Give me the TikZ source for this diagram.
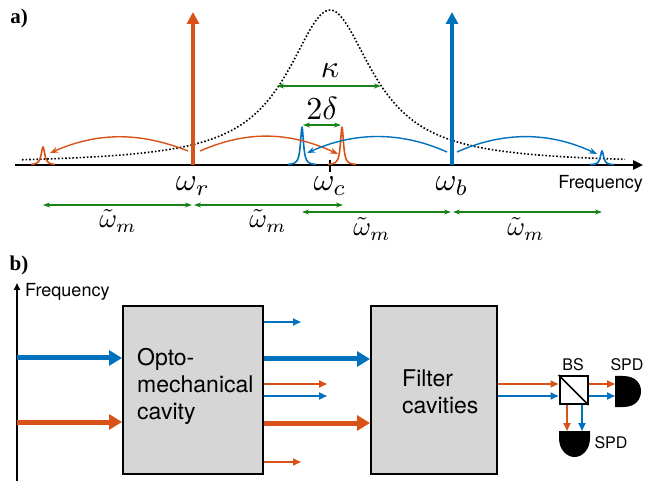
\documentclass[tikz,border=0pt]{standalone}
\usepackage{fontspec}
\newfontfamily\helv{TeX Gyre Heros}
\newfontfamily\tms{Liberation Serif}
\usetikzlibrary{arrows.meta}
\definecolor{cred}{RGB}{217,83,25}
\definecolor{cblue}{RGB}{0,114,189}
\definecolor{cgreen}{RGB}{25,130,25}
\definecolor{cgray}{RGB}{214,214,214}
\tikzset{
  txt/.style={inner sep=0pt,font=\fontsize{18}{18}\selectfont\helv},
  big/.style={inner sep=0pt,font=\fontsize{23}{27}\selectfont\helv,align=left},
  sym/.style={inner sep=0pt,scale=3.2},
  wsym/.style={inner sep=0pt,scale=2.7},
  panel/.style={inner sep=0pt,font=\fontsize{21}{21}\selectfont\tms\bfseries},
  pump/.style={line width=4pt,-{Triangle[length=12pt,width=12pt]}},
  sideband/.style={line width=1.4pt,-{Stealth[length=8pt,width=6pt]}},
  span/.style={cgreen,line width=1.3pt,{Stealth[length=7pt,width=5pt]}-{Stealth[length=7pt,width=5pt]}},
  thinarr/.style={line width=1.8pt,-{Triangle[length=8pt,width=7pt]}},
  thickarr/.style={line width=5pt,-{Triangle[length=13pt,width=15pt]}},
  block/.style={draw,line width=2pt,fill=cgray,minimum width=140pt,minimum height=168pt,inner sep=0pt},
}
\begin{document}
\begin{tikzpicture}[x=1pt,y=-1pt]
\useasboundingbox (0,0) rectangle (646,481);

% a) spectrum
\node[panel] at (19,18) {a)};
\draw[dotted,line width=1.6pt] plot[domain=22:625,samples=220] (\x,{164-154/(1+((\x-330)/52)^2)});
\draw[line width=2.4pt,-{Triangle[length=10pt,width=9pt]}] (15,165) -- (643,165);
\node[txt,anchor=east] at (643,184) {Frequency};

\coordinate (wr) at (193,165);
\coordinate (wc) at (330,165);
\coordinate (wb) at (452,165);
\draw[line width=1.3pt] (330,160) -- (330,172);
\draw[pump,cred] (wr) -- (193,12);
\draw[pump,cblue] (wb) -- (452,12);
\node[sym] at (193,186) {$\omega_r$};
\node[sym] at (330,186) {$\omega_c$};
\node[sym] at (452,186) {$\omega_b$};

% narrow peaks
\draw[cred,line width=1.6pt] plot[domain=31:55,samples=60] (\x,{165-18/(1+((\x-43)/2.2)^2)});
\draw[cblue,line width=1.6pt] plot[domain=590:614,samples=60] (\x,{165-14/(1+((\x-602)/2)^2)});
\draw[cblue,line width=1.6pt] plot[domain=288:316,samples=80] (\x,{165-38/(1+((\x-302)/1.8)^2)});
\draw[cred,line width=1.6pt] plot[domain=328:356,samples=80] (\x,{165-38/(1+((\x-342)/1.8)^2)});

% scattering
\draw[sideband,cred] (188,151) .. controls (140,132) and (98,132) .. (50,153);
\draw[sideband,cred] (200,151) .. controls (248,130) and (290,132) .. (338,154);
\draw[sideband,cblue] (447,152) .. controls (400,131) and (354,132) .. (307,153);
\draw[sideband,cblue] (457,152) .. controls (504,131) and (550,132) .. (597,154);

% widths
\draw[span] (277,86) -- (381,86);
\node[sym] at (330,71) {$\kappa$};
\draw[span] (303,125) -- (341,125);
\node[sym] at (322,108) {$2\delta$};
\draw[span] (43,205) -- (192,205);
\draw[span] (194,205) -- (343,205);
\draw[span] (302,212) -- (451,212);
\draw[span] (453,212) -- (602,212);
\node[wsym] at (118,221) {$\tilde{\omega}_m$};
\node[wsym] at (268,221) {$\tilde{\omega}_m$};
\node[wsym] at (372,229) {$\tilde{\omega}_m$};
\node[wsym] at (526,229) {$\tilde{\omega}_m$};

% b) setup
\node[panel] at (19,265) {b)};
\draw[line width=2pt,-{Triangle[length=7pt,width=6pt]}] (17,481) -- (17,283);
\node[txt,anchor=west] at (25,292) {Frequency};

\node[block] (om) at (193,390) {};
\node[big,anchor=west] at (137,386) {Opto-\\mechanical\\cavity};
\node[block,minimum width=126pt] (fc) at (434,390) {};
\node[big,anchor=west] at (402,392) {Filter\\cavities};

\draw[thickarr,cblue] (17,358) -- (om.west |- 0,358);
\draw[thickarr,cred] (17,422) -- (om.west |- 0,422);

\draw[thinarr,cblue] (om.east |- 0,322) -- ++(37,0);
\draw[thickarr,cblue] (om.east |- 0,359) -- (fc.west |- 0,359);
\draw[thinarr,cred] (om.east |- 0,384) -- ++(63,0);
\draw[thinarr,cblue] (om.east |- 0,396) -- ++(63,0);
\draw[thickarr,cred] (om.east |- 0,423) -- (fc.west |- 0,423);
\draw[thinarr,cred] (om.east |- 0,462) -- ++(37,0);

\node[draw,line width=2pt,fill=white,minimum size=28pt,inner sep=0pt] (bs) at (573.5,390) {};
\draw[line width=1.6pt] (bs.north west) -- (bs.south east);
\node[txt,font=\fontsize{16}{16}\selectfont\helv] at (573,365) {BS};

\draw[thinarr,cred] (fc.east |- 0,384) -- (bs.west |- 0,384);
\draw[thinarr,cblue] (fc.east |- 0,396) -- (bs.west |- 0,396);

% detectors
\fill (615,376) -- (623,376) .. controls (636,376) and (641,384) .. (641,391)
  .. controls (641,399) and (636,407) .. (623,407) -- (615,407) -- cycle;
\coordinate (spdr) at (615,391);
\fill (559,431) -- (590,431) -- (590,438) .. controls (590,450) and (582,457) .. (574.5,457)
  .. controls (567,457) and (559,450) .. (559,438) -- cycle;
\coordinate (spdb) at (574.5,431);
\node[txt,font=\fontsize{16}{16}\selectfont\helv] at (627,365) {SPD};
\node[txt,font=\fontsize{16}{16}\selectfont\helv] at (611,443) {SPD};

\draw[thinarr,cred] (bs.east |- 0,384) -- (spdr |- 0,384);
\draw[thinarr,cblue] (bs.east |- 0,396) -- (spdr |- 0,396);
\draw[thinarr,cred] (bs.south -| 567,0) -- (567,431);
\draw[thinarr,cblue] (bs.south -| 582,0) -- (582,431);
\end{tikzpicture}
\end{document}
